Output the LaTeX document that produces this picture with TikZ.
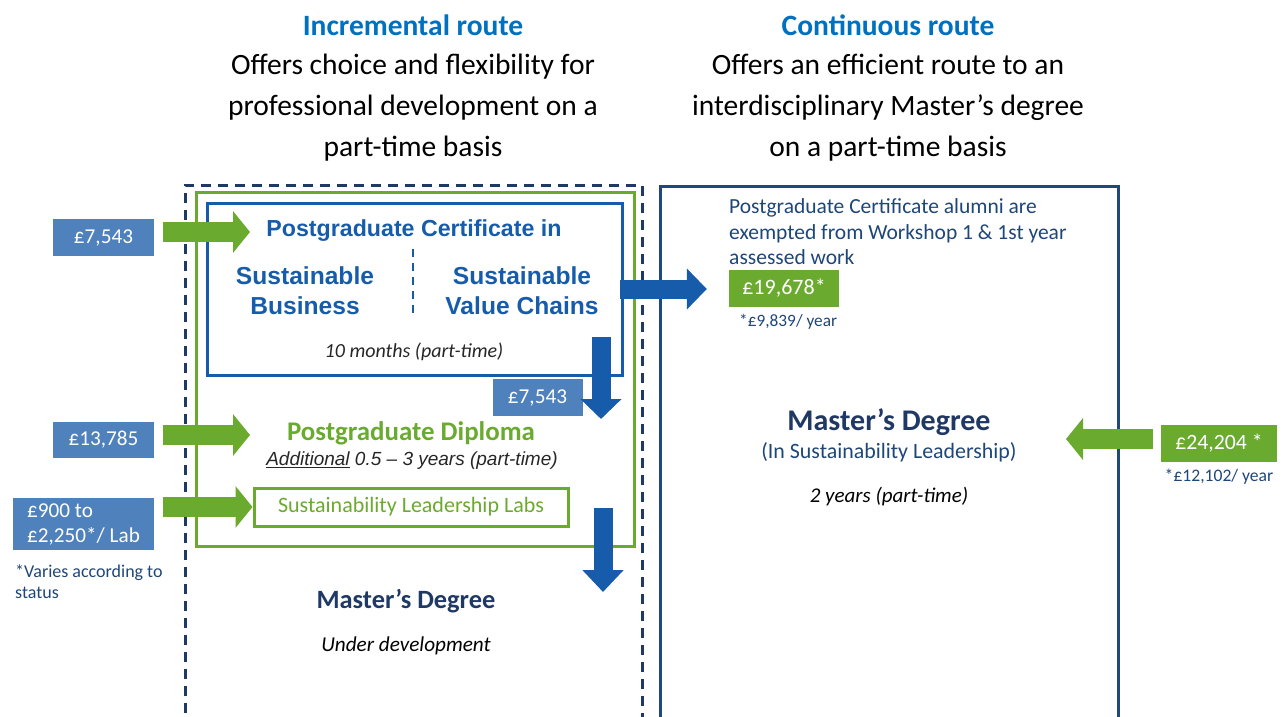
\documentclass[tikz,border=0pt]{standalone}
\usepackage{fontspec}
\setmainfont{Carlito}
\newfontfamily\arialfont{Liberation Sans}
\usetikzlibrary{arrows.meta,positioning}

\definecolor{titleblue}{RGB}{0,112,192}
\definecolor{navy}{RGB}{31,56,100}
\definecolor{boxnavy}{RGB}{31,73,125}
\definecolor{feeblue}{RGB}{79,129,189}
\definecolor{routegreen}{RGB}{106,170,46}
\definecolor{certblue}{RGB}{22,92,170}
\definecolor{textnavy}{RGB}{30,70,120}

\newcommand{\fsz}[1]{\fontsize{#1}{#1}\selectfont}

\tikzset{
  fee/.style={fill=feeblue, text=white, font=\fsz{21.2}, inner sep=0pt},
  greenfee/.style={fee, fill=routegreen, font=\fsz{22}},
  garrow/.style={draw=routegreen, line width=20pt, -{Triangle[length=17pt,width=41pt]}},
  barrow/.style={draw=certblue, line width=19pt, -{Triangle[length=20pt,width=40pt]}},
  frame/.style={line width=3pt, inner sep=0pt},
  note/.style={text=textnavy, font=\fsz{17.3}, inner sep=0pt},
}

\begin{document}
\begin{tikzpicture}[x=1pt,y=-1pt]
	\useasboundingbox (0,0) rectangle (1288,717);

	% headings
	\node[text=titleblue, font=\bfseries\fsz{29.5}] (incrtitle) at (413,25) {Incremental route};
	\node[align=center, font=\fontsize{29.5}{41}\selectfont] (incrtext) at (413,108)
		{Offers choice and flexibility for\\professional development on a\\part-time basis};
	\node[text=titleblue, font=\bfseries\fsz{29.5}] (conttitle) at (888,25) {Continuous route};
	\node[align=center, font=\fontsize{29.5}{41}\selectfont] (conttext) at (888,108)
		{Offers an efficient route to an\\interdisciplinary Master’s degree\\on a part-time basis};

	% frames
	\draw[navy, line width=3pt, dash pattern=on 10pt off 7pt] (185,730) -- (185,185) -- (642,185) -- (642,730);
	\node[frame, draw=routegreen, minimum width=438, minimum height=354] (diplbox) at (415,369) {};
	\node[frame, draw=certblue, minimum width=415, minimum height=172] (cert) at (414.5,289) {};
	\draw[boxnavy, line width=3pt] (660,730) -- (660,186) -- (1118,186) -- (1118,730);

	% certificate
	\node[text=certblue, font=\arialfont\bfseries\fsz{23.2}] (certtitle) at (414,231) {Postgraduate Certificate in};
	\node[text=certblue, align=center, font=\arialfont\bfseries\fontsize{24.6}{30}\selectfont] (sustbus) at (305,291) {Sustainable\\Business};
	\node[text=certblue, align=center, font=\arialfont\bfseries\fontsize{24.6}{30}\selectfont] (sustval) at (522,291) {Sustainable\\Value Chains};
	\coordinate (septop) at (413,249);
	\coordinate (sepbot) at (413,315);
	\draw[certblue, line width=2pt, dash pattern=on 8pt off 6pt] (septop) -- (sepbot);
	\node[font=\itshape\fsz{20}, text=black!85] (months) at (414,352) {10 months (part-time)};

	% diploma and labs
	\node[text=routegreen, font=\bfseries\fsz{26.9}] (diploma) at (411,433) {Postgraduate Diploma};
	\node[font=\arialfont\itshape\fsz{19}, text=black!85] (addl) at (412,461) {\underline{Additional} 0.5 – 3 years (part-time)};
	\node[frame, draw=routegreen, text=routegreen, font=\fsz{22}, minimum width=314, minimum height=38] (labs) at (411,507) {Sustainability Leadership Labs};

	% master left
	\node[text=navy, font=\bfseries\fsz{26.4}] (masterl) at (406,601) {Master’s Degree};
	\node[font=\itshape\fsz{21.2}] (underdev) at (406,646) {Under development};

	% fees left
	\node[fee, minimum width=101, minimum height=37] (fee1) at (103.5,237.5) {£7,543};
	\node[fee, minimum width=90, minimum height=37] (fee2) at (537.5,397.5) {£7,543};
	\node[fee, minimum width=101, minimum height=36] (fee3) at (103.5,440) {£13,785};
	\node[fee, minimum width=141, minimum height=52, align=left, font=\fontsize{21.2}{25}\selectfont] (fee4) at (83.5,524) {£900 to\\£2,250*/ Lab};
	\node[note, anchor=west, align=left, font=\fontsize{18}{21}\selectfont] (varies) at (15,582) {*Varies according to\\status};

	% continuous route
	\node[anchor=west, align=left, text=textnavy, font=\fontsize{21.5}{25.5}\selectfont, inner sep=0pt] (alumni) at (729,232)
		{Postgraduate Certificate alumni are\\exempted from Workshop 1 \& 1st year\\assessed work};
	\node[greenfee, minimum width=110, minimum height=37] (fee5) at (784,288.5) {£19,678*};
	\node[note, anchor=west] (year5) at (739,322) {*£9,839/ year};
	\node[text=navy, font=\bfseries\fsz{30}] (masterr) at (889,422) {Master’s Degree};
	\node[text=textnavy, font=\fsz{21.9}] (insust) at (889,452) {(In Sustainability Leadership)};
	\node[font=\itshape\fsz{21}] (twoyears) at (889,497) {2 years (part-time)};
	\node[greenfee, minimum width=116, minimum height=37, font=\fsz{21.8}] (fee6) at (1219,443.5) {£24,204 *};
	\node[note, font=\fsz{17.6}] (year6) at (1219,477) {*£12,102/ year};

	% arrows
	\coordinate (tip1) at (250,232);
	\coordinate (tip3) at (250,435);
	\coordinate (gstart) at (163,0);
	\draw[garrow] (tip1 -| gstart) -- (tip1);
	\draw[garrow] (tip3 -| gstart) -- (tip3);
	\draw[garrow] (labs.west -| gstart) -- (labs.west);
	\coordinate (tip6) at (1066,439);
	\draw[garrow] (tip6 -| 1153,0) -- (tip6);
	\draw[barrow] ([xshift=-4pt]cert.east) -- ([xshift=-22pt]fee5.west |- cert.east);
	\coordinate (down1) at (601,337);
	\coordinate (down1tip) at (601,419);
	\draw[barrow] (down1) -- (down1tip);
	\coordinate (down2) at (603,508);
	\coordinate (down2tip) at (603,592);
	\draw[barrow, -{Triangle[length=22pt,width=40pt]}] (down2) -- (down2tip);
\end{tikzpicture}
\end{document}
